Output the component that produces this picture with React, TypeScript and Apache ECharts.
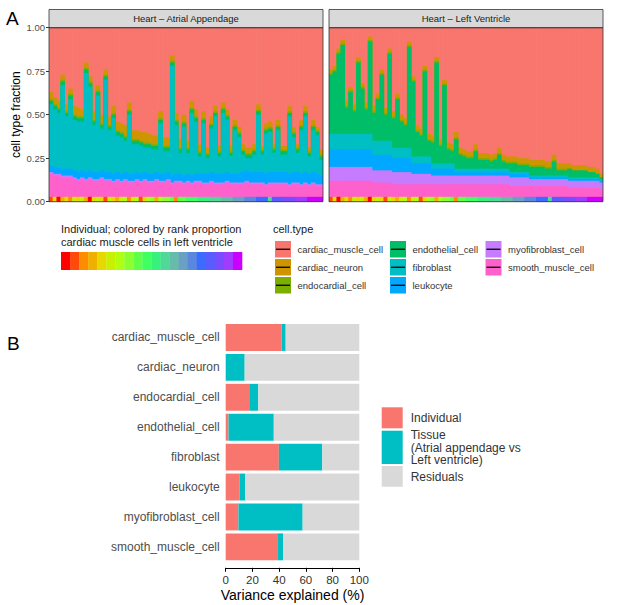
import { useEffect, useRef } from 'react';
import * as echarts from 'echarts';

// ---------- data ----------
const CELL_TYPES = [
  'cardiac_muscle_cell',
  'cardiac_neuron',
  'endocardial_cell',
  'endothelial_cell',
  'fibroblast',
  'leukocyte',
  'myofibroblast_cell',
  'smooth_muscle_cell',
];
const CELL_COLORS = ['#F8766D', '#CD9600', '#7CAE00', '#00BE67', '#00BFC4', '#00A9FF', '#C77CFF', '#FF61CC'];
const TISSUES = ['Heart \u2013 Atrial Appendage', 'Heart \u2013 Left Ventricle'];

// Atrial appendage, percent per individual (bars left to right)
const AA_CARDIAC_MUSCLE = [37,40,42,27,44,35,45,46,47,20,28,48,33,50,24,51,45,54,55,56,43,59,59,60,60,61,62,62,48,63,63,16,49,64,50,65,42,47,67,48,69,51,45,68,43,47,68,53,57,67,69,69,67,44,68,55,54,67,53,68,68,45,57,67,53,45,69,53,57,70];
const AA_CARDIAC_NEURON = [4,4,4,3,4,3,5,5,4,3,3,5,3,5,3,5,4,5,5,6,4,5,5,5,6,5,5,5,4,5,5,3,4,5,4,4,4,4,4,4,3,4,3,3,3,3,3,3,3,3,3,3,3,3,2,3,3,2,3,2,2,3,3,2,3,3,2,3,2,3];
const AA_ENDOCARDIAL = [1,1,1,1,1,1,1,1,1,1,1,1,1,1,1,1,1,1,1,1,1,1,1,1,1,1,1,1,1,1,1,1,1,1,1,1,1,1,1,1,1,1,1,1,1,1,1,1,1,1,1,1,1,1,1,1,1,1,1,1,1,1,1,1,1,1,1,1,1,1];
const AA_ENDOTHELIAL = [2,2,2,2,2,2,2,2,2,2,2,2,2,2,2,2,2,2,2,2,2,2,2,2,2,2,2,2,2,2,2,2,2,2,2,2,2,2,2,2,2,2,2,2,2,2,2,2,2,2,2,2,2,2,2,2,2,2,2,2,2,2,2,2,2,2,2,2,2,2];
const AA_FIBROBLAST = [35,33,31,48,30,40,29,29,28,57,48,27,44,24,53,24,32,21,21,18,34,17,16,16,14,15,14,13,29,13,12,63,28,12,28,12,36,30,10,29,9,25,33,10,35,30,10,25,21,10,7,8,10,33,10,23,23,11,24,10,10,33,20,11,25,32,10,24,22,9];
const AA_LEUKOCYTE = [4,4,4,4,4,4,4,4,4,4,4,4,4,4,4,4,4,4,4,4,4,4,4,4,4,4,4,4,4,4,4,4,4,4,4,4,4,4,4,5,5,5,5,5,5,5,5,5,5,6,6,6,6,6,6,6,6,6,6,6,6,6,6,6,6,6,6,6,6,5];
const AA_MYOFIBROBLAST = [1,1,1,1,1,1,1,1,1,1,1,1,1,1,1,1,1,1,1,1,1,1,1,1,1,1,1,1,1,1,1,1,1,1,1,1,1,1,1,1,1,1,1,1,1,1,1,1,1,1,1,1,1,1,1,1,1,1,1,1,1,1,1,1,1,1,1,1,1,1];
const AA_SMOOTH_MUSCLE = [16,15,15,14,14,14,13,12,13,12,13,12,12,13,12,12,11,12,11,12,11,11,12,11,12,11,11,12,11,11,12,10,11,11,10,11,10,11,11,10,10,11,10,10,10,11,10,10,10,10,11,10,10,10,10,9,10,10,10,10,10,9,10,10,9,10,9,10,9,9];

// Left ventricle, percent per individual (bars left to right)
const LV_CARDIAC_MUSCLE = [24,22,12,7,42,34,44,17,32,43,5,45,38,24,46,12,48,38,50,52,8,28,56,58,22,61,62,17,64,30,66,67,60,69,70,71,71,67,72,72,72,73,72,69,73,74,74,74,75,75,75,76,76,76,76,77,77,73,78,78,78,78,79,79,79,79,80,80,81,84];
const LV_CARDIAC_NEURON = [2,2,2,2,3,2,3,2,2,3,2,3,2,2,3,2,3,2,3,3,2,2,3,3,2,3,3,2,3,2,3,3,3,3,3,3,3,3,3,3,3,3,3,3,3,3,3,3,3,3,3,3,3,3,3,3,3,3,3,3,3,3,3,3,3,3,3,3,3,2];
const LV_ENDOCARDIAL = [1,1,1,1,1,1,1,1,1,1,1,1,1,1,1,1,1,1,1,1,1,1,1,1,1,1,1,1,1,1,1,1,1,1,1,1,1,1,1,1,1,1,1,1,1,1,1,1,1,1,1,1,1,1,1,1,1,1,1,1,1,0,0,0,0,0,0,0,0,0];
const LV_ENDOTHELIAL = [34,36,46,51,15,24,13,41,26,14,53,16,24,38,15,50,17,28,15,13,58,43,14,12,49,9,12,58,10,45,8,7,17,8,7,6,6,10,5,5,5,4,5,8,4,3,5,5,4,4,4,5,5,5,5,4,4,8,3,3,3,5,4,4,4,4,3,3,2,1];
const LV_FIBROBLAST = [9,9,9,9,9,9,9,9,9,9,9,8,8,8,8,8,6,6,6,6,6,4,4,4,4,4,3,3,3,3,3,3,2,2,2,2,2,2,2,2,2,2,2,2,2,2,1,1,1,1,1,1,1,1,1,1,1,1,1,1,1,1,1,1,1,1,1,1,1,1];
const LV_LEUKOCYTE = [10,10,10,10,10,10,10,10,10,10,10,9,9,9,9,9,8,8,8,8,8,6,6,6,6,6,4,4,4,4,4,4,2,2,2,2,2,2,2,2,2,2,2,2,2,2,2,2,2,2,2,1,1,1,1,1,1,1,1,1,1,1,1,1,1,1,1,1,1,1];
const LV_MYOFIBROBLAST = [8,8,8,8,8,8,8,8,8,8,8,7,7,7,7,7,7,7,7,7,7,6,6,6,6,6,5,5,5,5,5,5,5,5,5,5,5,5,5,5,5,5,5,5,5,5,5,5,5,5,5,4,4,4,4,4,4,4,4,4,4,4,4,4,4,4,4,4,4,4];
const LV_SMOOTH_MUSCLE = [12,12,12,12,12,12,12,12,12,12,12,11,11,11,11,11,10,10,10,10,10,10,10,10,10,10,10,10,10,10,10,10,10,10,10,10,10,10,10,10,10,10,10,10,10,10,9,9,9,9,9,9,9,9,9,9,9,9,9,9,9,8,8,8,8,8,8,8,8,7];

// rank bin (0..19) of each individual, colours of the rank strip
const RANK_BIN = [1,4,0,3,4,2,5,4,5,3,0,4,5,4,1,5,4,3,5,6,2,5,6,1,4,6,7,3,6,7,7,8,2,8,8,9,9,9,10,10,10,11,11,11,12,12,12,13,13,13,14,14,14,15,15,15,11,16,16,16,17,17,17,18,18,18,19,19,19,19];
const RANK_PALETTE = ['#FF0000','#FF4A0A','#FF8C00','#F0B000','#E6D800','#C8F000','#B0FF10','#8CFF30','#60FF48','#40FF60','#38F07C','#50D898','#66BBAA','#6AA0C4','#5A88E0','#3C6CFF','#5A5CFF','#7A4CFF','#A03CFF','#CC00FF'];
const RANK_STRIP_HEIGHT = 0.028;

// Panel B: variance explained (%)
const VAR_COMPONENTS = ['Individual', 'Tissue', 'Residuals'];
const VAR_COLORS = ['#F8766D', '#00BFC4', '#D9D9D9'];
const VAR_INDIVIDUAL = [41.9, 0, 18.2, 2.1, 39.8, 10.3, 9.5, 38.6];
const VAR_TISSUE = [3.0, 14.2, 6.2, 33.9, 32.5, 4.4, 48.1, 4.5];
const VAR_RESIDUALS = [55.1, 85.8, 75.6, 64.0, 27.7, 85.3, 42.4, 56.9];

const FONT = '"Liberation Sans", Arial, Helvetica, sans-serif';

export default function App() {
  const ref = useRef<HTMLDivElement>(null);

  useEffect(() => {
    if (!ref.current) return;
    const chart = echarts.init(ref.current, undefined, { renderer: 'svg' });

    const barIds = AA_CARDIAC_MUSCLE.map((_, i) => String(i + 1));
    const panels = [
      [AA_CARDIAC_MUSCLE, AA_CARDIAC_NEURON, AA_ENDOCARDIAL, AA_ENDOTHELIAL, AA_FIBROBLAST, AA_LEUKOCYTE, AA_MYOFIBROBLAST, AA_SMOOTH_MUSCLE],
      [LV_CARDIAC_MUSCLE, LV_CARDIAC_NEURON, LV_ENDOCARDIAL, LV_ENDOTHELIAL, LV_FIBROBLAST, LV_LEUKOCYTE, LV_MYOFIBROBLAST, LV_SMOOTH_MUSCLE],
    ];

    // Each layer is drawn as a bar from 0 to its cumulative top (stack order as in ggplot:
    // smooth_muscle at the bottom, cardiac_muscle on top); lower layers paint over upper ones,
    // which avoids hairline seams between stacked rectangles.
    const series: any[] = [];
    panels.forEach((arrs, p) => {
      const cumTop: number[][] = [];
      const running = arrs[0].map(() => 0);
      for (let k = CELL_TYPES.length - 1; k >= 0; k--) {
        arrs[k].forEach((v, i) => (running[i] += v));
        cumTop[k] = running.slice();
      }
      for (let k = 0; k < CELL_TYPES.length; k++) {
        series.push({
          type: 'bar',
          name: CELL_TYPES[k],
          xAxisIndex: p,
          yAxisIndex: p,
          data: cumTop[k].map((v) => v / 100),
          itemStyle: { color: CELL_COLORS[k] },
          barWidth: '118%',
          barGap: '-100%',
          silent: true,
          z: 2,
        });
      }
      series.push({
        type: 'bar',
        name: 'rank',
        xAxisIndex: p,
        yAxisIndex: p,
        data: RANK_BIN.map((b) => ({ value: RANK_STRIP_HEIGHT, itemStyle: { color: RANK_PALETTE[b] } })),
        barWidth: '118%',
        barGap: '-100%',
        silent: true,
        z: 3,
      });
    });

    [VAR_INDIVIDUAL, VAR_TISSUE, VAR_RESIDUALS].forEach((arr, k) => {
      series.push({
        type: 'bar',
        name: VAR_COMPONENTS[k],
        xAxisIndex: 2,
        yAxisIndex: 2,
        stack: 'var',
        data: arr,
        barWidth: '90%',
        itemStyle: { color: VAR_COLORS[k] },
        silent: true,
      });
    });

    const A_LEFT = [49, 329];
    const A_TOP = 27.7;
    const A_W = 274;
    const A_H = 174;

    const elements: any[] = [];
    const txt = (x: number, y: number, text: string, size: number, fill: string, align = 'left') => ({
      type: 'text',
      x,
      y,
      z: 100,
      silent: true,
      style: { text, fill, font: `${size}px ${FONT}`, textAlign: align, textVerticalAlign: 'middle' },
    });

    // panel letters
    elements.push(txt(6, 18, 'A', 19, '#000'));
    elements.push(txt(7, 343, 'B', 19, '#000'));

    // facet strips and panel borders (white masks hide bar overhang at panel edges)
    A_LEFT.forEach((l, p) => {
      elements.push({ type: 'rect', z: 99, silent: true, shape: { x: l - 2, y: A_TOP - 1, width: 1.6, height: A_H + 2 }, style: { fill: '#fff' } });
      elements.push({ type: 'rect', z: 99, silent: true, shape: { x: l + A_W + 0.4, y: A_TOP - 1, width: 1.6, height: A_H + 2 }, style: { fill: '#fff' } });
      elements.push({ type: 'rect', z: 100, silent: true, shape: { x: l, y: 9.5, width: A_W, height: A_TOP - 9.5 }, style: { fill: '#D9D9D9', stroke: '#333', lineWidth: 0.8 } });
      elements.push(txt(l + A_W / 2, 18.7, TISSUES[p], 9.5, '#1A1A1A', 'center'));
      elements.push({ type: 'rect', z: 100, silent: true, shape: { x: l, y: A_TOP, width: A_W, height: A_H }, style: { fill: 'none', stroke: '#333', lineWidth: 0.8 } });
    });

    // rank legend
    elements.push(txt(61, 229, 'Individual; colored by rank proportion', 11, '#1A1A1A'));
    elements.push(txt(61, 241.5, 'cardiac muscle cells in left ventricle', 11, '#1A1A1A'));
    const gw = 181 / RANK_PALETTE.length;
    RANK_PALETTE.forEach((c, i) => {
      elements.push({ type: 'rect', z: 100, silent: true, shape: { x: 61 + i * gw, y: 252, width: gw + 0.3, height: 18 }, style: { fill: c } });
    });

    // cell.type legend
    elements.push(txt(273, 229, 'cell.type', 11, '#1A1A1A'));
    const colX = [275, 390, 485.5];
    const rowY = [241, 259, 277];
    CELL_TYPES.forEach((name, k) => {
      const c = Math.floor(k / 3);
      const r = k % 3;
      const x = colX[c];
      const y = rowY[r];
      elements.push({ type: 'rect', z: 100, silent: true, shape: { x, y, width: 16, height: 16.5 }, style: { fill: CELL_COLORS[k] } });
      elements.push({ type: 'line', z: 101, silent: true, shape: { x1: x + 1, y1: y + 8.25, x2: x + 15, y2: y + 8.25 }, style: { stroke: '#000', lineWidth: 1.3 } });
      elements.push(txt(x + 22.5, y + 8.25, name, 9.5, '#333'));
    });

    // panel B legend
    const keyB = [
      { y: 407.3, h: 21, lines: ['Individual'], ly: [418.3] },
      { y: 430.7, h: 33.3, lines: ['Tissue', '(Atrial appendage vs', 'Left ventricle)'], ly: [435, 447.7, 460.2] },
      { y: 466, h: 20.7, lines: ['Residuals'], ly: [477.3] },
    ];
    keyB.forEach((kb, k) => {
      elements.push({ type: 'rect', z: 100, silent: true, shape: { x: 381.7, y: kb.y, width: 21, height: kb.h }, style: { fill: VAR_COLORS[k] } });
      kb.lines.forEach((t, j) => elements.push(txt(410.7, kb.ly[j], t, 12, '#333')));
    });

    chart.setOption({
      animation: false,
      textStyle: { fontFamily: FONT },
      grid: [
        { left: A_LEFT[0], top: A_TOP, width: A_W, height: A_H },
        { left: A_LEFT[1], top: A_TOP, width: A_W, height: A_H },
        { left: 225.7, top: 322.5, width: 133.6, height: 239.3 },
      ],
      xAxis: [
        { type: 'category', gridIndex: 0, data: barIds, show: false },
        { type: 'category', gridIndex: 1, data: barIds, show: false },
        {
          type: 'value',
          gridIndex: 2,
          min: 0,
          max: 100,
          interval: 20,
          offset: 6,
          axisLine: { show: true, lineStyle: { color: '#000', width: 1 } },
          axisTick: { show: true, length: 4, lineStyle: { color: '#000' } },
          axisLabel: { fontSize: 11.5, color: '#333', margin: 6, fontFamily: FONT },
          splitLine: { show: false },
          name: 'Variance explained (%)',
          nameLocation: 'middle',
          nameGap: 20,
          nameTextStyle: { fontSize: 14, color: '#000', fontFamily: FONT },
        },
      ],
      yAxis: [
        {
          type: 'value',
          gridIndex: 0,
          min: 0,
          max: 1,
          interval: 0.25,
          axisLine: { show: false },
          axisTick: { show: true, length: 3, lineStyle: { color: '#333' } },
          axisLabel: { formatter: (v: number) => v.toFixed(2), fontSize: 9.5, color: '#4D4D4D', margin: 4, fontFamily: FONT },
          splitLine: { show: false },
          name: 'cell type fraction',
          nameLocation: 'middle',
          nameRotate: 90,
          nameGap: 27,
          nameTextStyle: { fontSize: 12, color: '#000', fontFamily: FONT },
          z: 120,
        },
        {
          type: 'value',
          gridIndex: 1,
          min: 0,
          max: 1,
          interval: 0.25,
          axisLine: { show: false },
          axisTick: { show: false },
          axisLabel: { show: false },
          splitLine: { show: false },
        },
        {
          type: 'category',
          gridIndex: 2,
          data: CELL_TYPES,
          inverse: true,
          axisLine: { show: false },
          axisTick: { show: false },
          axisLabel: { fontSize: 12, color: '#4D4D4D', margin: 6, fontFamily: FONT },
        },
      ],
      series,
      graphic: { elements },
    });

    return () => chart.dispose();
  }, []);

  return <div ref={ref} style={{ position: 'absolute', left: 0, top: 0, width: 617, height: 605 }} />;
}
